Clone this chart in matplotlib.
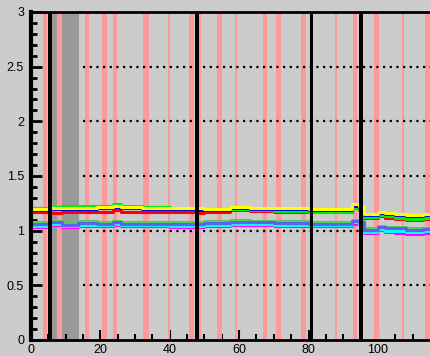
import matplotlib
matplotlib.use("Agg")
import matplotlib.pyplot as plt
from matplotlib.ticker import MultipleLocator

plt.rcParams['font.family'] = ['Liberation Sans', 'DejaVu Sans']

# step breakpoints (x) shared by all series
X = [0, 5.5, 9, 13.5, 19, 23.5, 26, 32, 40, 47.5, 50, 57.5, 63, 70, 80, 87,
     92.5, 94.5, 96, 100, 102, 105, 108, 111, 113, 115.5]

# upper group
YELLOW = [1.20, 1.21, 1.21, 1.21, 1.215, 1.225, 1.215, 1.21, 1.205, 1.205, 1.20, 1.22, 1.21,
          1.205, 1.20, 1.20, 1.24, 1.225, 1.15, 1.175, 1.16, 1.15, 1.14, 1.14, 1.15, 1.15]
GREEN_HI = [1.21, 1.22, 1.225, 1.225, 1.23, 1.24, 1.225, 1.215, 1.205, 1.20, 1.19, 1.20, 1.19,
            1.18, 1.175, 1.175, 1.21, 1.195, 1.125, 1.145, 1.13, 1.12, 1.11, 1.11, 1.12, 1.12]
BLUE_HI = [1.19, 1.20, 1.20, 1.20, 1.205, 1.215, 1.205, 1.20, 1.195, 1.19, 1.19, 1.21, 1.20,
           1.195, 1.19, 1.19, 1.228, 1.212, 1.14, 1.165, 1.15, 1.14, 1.13, 1.13, 1.14, 1.14]
RED = [1.175, 1.165, 1.17, 1.17, 1.17, 1.185, 1.175, 1.175, 1.17, 1.165, 1.175, 1.19, 1.18,
       1.175, 1.17, 1.17, 1.205, 1.19, 1.12, 1.13, 1.12, 1.11, 1.10, 1.10, 1.11, 1.11]

# lower group
GREEN_LO = [1.075, 1.09, 1.075, 1.085, 1.08, 1.09, 1.08, 1.08, 1.075, 1.075, 1.085, 1.095, 1.09,
            1.085, 1.08, 1.08, 1.10, 1.09, 1.02, 1.045, 1.03, 1.03, 1.02, 1.02, 1.025, 1.025]
BLUE_LO = [1.06, 1.075, 1.055, 1.07, 1.065, 1.075, 1.065, 1.065, 1.06, 1.06, 1.07, 1.08, 1.075,
           1.07, 1.065, 1.065, 1.09, 1.08, 1.01, 1.035, 1.02, 1.02, 1.01, 1.01, 1.015, 1.015]
CYAN = [1.045, 1.06, 1.04, 1.055, 1.05, 1.06, 1.05, 1.05, 1.045, 1.045, 1.055, 1.065, 1.06,
        1.055, 1.05, 1.05, 1.075, 1.065, 0.99, 1.015, 1.0, 0.995, 0.99, 0.99, 1.0, 1.0]
MAGENTA = [1.035, 1.05, 1.03, 1.045, 1.04, 1.05, 1.04, 1.04, 1.035, 1.035, 1.045, 1.055, 1.05,
           1.045, 1.04, 1.04, 1.065, 1.055, 0.98, 1.005, 0.985, 0.975, 0.965, 0.97, 0.98, 0.98]

# event bands (start, end)
PINK_BANDS = [(3.4, 4.7), (7.4, 8.8), (15.6, 16.8), (20.4, 21.8), (23.5, 24.9), (32.4, 33.9),
              (39.5, 40.1), (45.6, 47.0), (48.4, 49.0), (53.6, 55.0), (58.7, 59.3), (66.8, 68.1),
              (70.6, 72.0), (77.8, 79.2), (87.6, 88.2), (92.7, 94.1), (98.8, 100.2),
              (106.8, 107.4), (113.7, 115.3)]
BLACK_BANDS = [(5.0, 6.1), (47.3, 48.4), (80.5, 81.4), (94.5, 95.6)]
GRAY_BANDS = [(6.1, 13.8)]
GRID_Y = [0.5, 1.0, 1.5, 2.0, 2.5]
GRID_START = 15

BG = '#cccccc'

fig = plt.figure(figsize=(4.31, 3.56), dpi=100, facecolor=BG)
ax = fig.add_axes([31 / 431, 16 / 356, 400 / 431, 328 / 356], facecolor=BG)

for a, b in GRAY_BANDS:
    ax.axvspan(a, b, color='#999999', lw=0, zorder=1)
for a, b in PINK_BANDS:
    ax.axvspan(a, b, color='#ff9999', lw=0, zorder=2)

# dotted reference lines, only right of the gray band
for gy in GRID_Y:
    ax.plot([GRID_START, 116], [gy, gy], color='black', lw=1.6,
            linestyle=(0, (1, 2.0)), zorder=3)

# drawing order matters: later lines sit on top
series = [
    (RED, '#ff0000'), (GREEN_HI, '#00ee00'), (BLUE_HI, '#0000ff'), (YELLOW, '#ffff00'),
    (MAGENTA, '#ff00ff'), (CYAN, '#00ffff'), (GREEN_LO, '#55cc55'), (BLUE_LO, '#6060f0'),
]
for vals, col in series:
    ax.step(X, vals, where='post', color=col, lw=2.2, zorder=4)

for a, b in BLACK_BANDS:
    ax.axvspan(a, b, color='black', lw=0, zorder=5)

ax.set_xlim(0, 115.3)
ax.set_ylim(0, 3)

ax.xaxis.set_major_locator(MultipleLocator(20))
ax.xaxis.set_minor_locator(MultipleLocator(5))
ax.yaxis.set_major_locator(MultipleLocator(0.5))
ax.yaxis.set_minor_locator(MultipleLocator(0.1))
ax.yaxis.set_major_formatter(plt.FuncFormatter(lambda v, p: f'{v:g}'))

ax.tick_params(axis='both', which='both', direction='in', colors='black', labelsize=9)
ax.tick_params(axis='y', which='major', length=8, width=2, pad=5)
ax.tick_params(axis='y', which='minor', length=4, width=2)
ax.tick_params(axis='x', which='major', length=7, width=1.5, pad=3)
ax.tick_params(axis='x', which='minor', length=4, width=1.5)

ax.spines['right'].set_visible(False)
ax.spines['left'].set_linewidth(3)
ax.spines['bottom'].set_linewidth(2)
ax.spines['top'].set_linewidth(2)
for s in ax.spines.values():
    s.set_zorder(6)

fig.savefig('out.png', dpi=100, facecolor=BG)
